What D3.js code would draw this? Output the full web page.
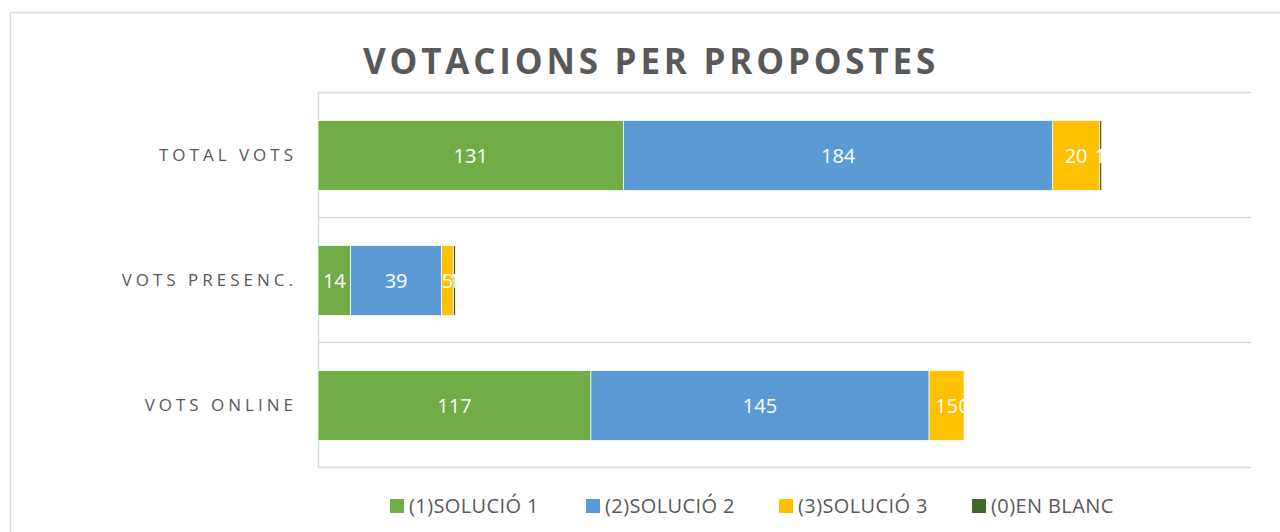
<!DOCTYPE html>
<html><head><meta charset="utf-8">
<script src="https://cdn.jsdelivr.net/npm/d3@7"></script>
<style>html,body{margin:0;padding:0;background:#fff;}</style>
</head><body>
<svg id="chart" width="1280" height="532"></svg>
<script>
const categories = ["TOTAL VOTS", "VOTS PRESENC.", "VOTS ONLINE"];
const seriesNames = ["(1)SOLUCIÓ 1", "(2)SOLUCIÓ 2", "(3)SOLUCIÓ 3", "(0)EN BLANC"];
const solucio1 = [131, 14, 117];
const solucio2 = [184, 39, 145];
const solucio3 = [20, 5, 15];
const enBlanc = [1, 1, 0];
const colors = ["#70AD47", "#5B9BD5", "#FFC000", "#43682B"];
const xDomain = [0, 400];

const svg = d3.select("#chart");
const W = 1280, H = 532;
const m = {left: 318, right: 29, top: 92, bottom: 65};

svg.append("rect").attr("x", 10.5).attr("y", 12.5).attr("width", 1300).attr("height", 600)
  .attr("fill", "#fff").attr("stroke", "#d9d9d9").attr("stroke-width", 1.5);

const x = d3.scaleLinear().domain(xDomain).range([m.left, W - m.right]);
const y = d3.scaleBand().domain(categories).range([m.top, H - m.bottom]).paddingInner(0.44).paddingOuter(0.22);

// gridlines
const yGrid = d3.scaleBand().domain(categories).range([m.top, H - m.bottom]);
svg.append("g").selectAll("line").data(categories.concat(["end"])).join("line")
  .attr("x1", m.left).attr("x2", W - m.right)
  .attr("y1", (d, i) => Math.round(m.top + i * yGrid.step()) + 0.5)
  .attr("y2", (d, i) => Math.round(m.top + i * yGrid.step()) + 0.5)
  .attr("stroke", "#d9d9d9").attr("stroke-width", 1.5);
svg.append("line").attr("x1", m.left + 0.5).attr("x2", m.left + 0.5).attr("y1", m.top).attr("y2", H - m.bottom)
  .attr("stroke", "#d9d9d9").attr("stroke-width", 1.5);

const rows = categories.map((c, i) => ({cat: c, v: [solucio1[i], solucio2[i], solucio3[i], enBlanc[i]]}));
const stack = d3.stack().keys([0,1,2,3]).value((d, k) => d.v[k]);
const series = stack(rows);

const defs = svg.append("defs");
rows.forEach((r, i) => {
  const tot = d3.sum(r.v);
  defs.append("clipPath").attr("id", "clip" + i).append("rect")
    .attr("x", x(0)).attr("y", y(r.cat)).attr("width", x(tot) - x(0) + 1).attr("height", y.bandwidth() + 2);
});

const g = svg.append("g");
series.forEach((s, k) => {
  g.append("g").selectAll("rect").data(s).join("rect")
    .attr("x", d => x(d[0])).attr("y", d => y(d.data.cat) + 1)
    .attr("width", d => x(d[1]) - x(d[0])).attr("height", y.bandwidth())
    .attr("fill", colors[k]).attr("stroke", "#fff").attr("stroke-width", 0.75);
});
series.forEach((s, k) => {
  s.forEach((d, i) => {
    svg.append("text").attr("clip-path", "url(#clip" + i + ")")
      .attr("x", (x(d[0]) + x(d[1])) / 2).attr("y", y(d.data.cat) + 1 + y.bandwidth() / 2)
      .attr("dy", "0.35em").attr("text-anchor", "middle")
      .attr("fill", "#fff").attr("font-family", "Open Sans, sans-serif").attr("font-size", 20)
      .text(d[1] - d[0]);
  });
});

// y labels
svg.append("g").selectAll("text").data(categories).join("text")
  .attr("x", 297).attr("y", d => y(d) + 1 + y.bandwidth() / 2).attr("dy", "0.35em")
  .attr("text-anchor", "end").attr("fill", "#595959")
  .attr("font-family", "Open Sans, sans-serif").attr("font-size", 17).attr("letter-spacing", "4px")
  .text(d => d);

// title
svg.append("text").attr("x", 651).attr("y", 74).attr("text-anchor", "middle")
  .attr("fill", "#595959").attr("font-family", "Open Sans, sans-serif").attr("font-weight", "bold")
  .attr("font-size", 35).attr("letter-spacing", "3.8px").text("VOTACIONS PER PROPOSTES");

// legend
const legX = [390, 586, 779, 972];
const lg = svg.append("g").selectAll("g").data(seriesNames).join("g")
  .attr("transform", (d, i) => `translate(${legX[i]},506)`);
lg.append("rect").attr("x", 0).attr("y", -7).attr("width", 14).attr("height", 14).attr("fill", (d, i) => colors[i]);
lg.append("text").attr("x", 19).attr("y", 0).attr("dy", "0.36em").attr("fill", "#595959")
  .attr("font-family", "Open Sans, sans-serif").attr("font-size", 20).attr("letter-spacing", "0.4px").text(d => d);
</script>
</body></html>
